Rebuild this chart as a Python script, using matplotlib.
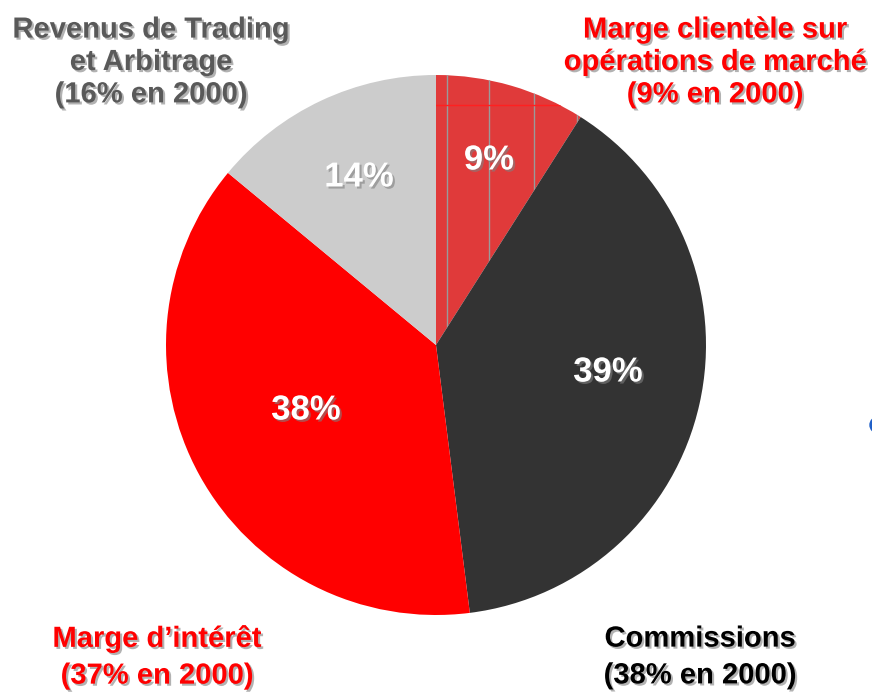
import matplotlib.pyplot as plt
import matplotlib.patheffects as pe
from matplotlib.patches import Circle

# parts of revenue (%), clockwise from the top
labels = ["Marge clientèle sur\nopérations de marché\n(9% en 2000)",
          "Commissions\n(38% en 2000)",
          "Marge d\u2019intérêt\n(37% en 2000)",
          "Revenus de Trading\net Arbitrage\n(16% en 2000)"]
values = [9, 39, 38, 14]
pct_text = ["9%", "39%", "38%", "14%"]
colors = ["#e03a3a", "#333333", "#ff0000", "#cccccc"]
label_colors = ["#ff0000", "#000000", "#ff0000", "#595959"]

plt.rcParams['font.family'] = ['Liberation Sans', 'DejaVu Sans']

fig = plt.figure(figsize=(8.72, 6.93), dpi=100)
ax = fig.add_axes([0, 0, 1, 1])

cx, cy, r = 436, 348, 270
wedges, _ = ax.pie(values, colors=colors, startangle=90, counterclock=False,
                   center=(cx, cy), radius=r, frame=True,
                   wedgeprops=dict(linewidth=0))
ax.set_xlim(0, 872)
ax.set_ylim(0, 693)
ax.set_aspect('equal')
ax.axis('off')

# grid lines visible through the first (patterned) slice
for gx in [447, 489, 534, 577]:
    ln, = ax.plot([gx, gx], [0, 693], color="#9a9a9a", lw=1)
    ln.set_clip_path(wedges[0])
hl, = ax.plot([0, 872], [588, 588], color="#ff2020", lw=1)
hl.set_clip_path(wedges[0])

shadow = [pe.withSimplePatchShadow(offset=(1.5, -1.5), shadow_rgbFace="#808080", alpha=0.6)]

# percentage labels inside the slices
pct_pos = [(489, 693 - 160), (608, 693 - 372), (306, 693 - 410), (359, 693 - 177)]
for (px, py), t in zip(pct_pos, pct_text):
    ax.text(px, py, t, color="white", fontsize=25, fontweight="bold",
            ha="center", va="center", path_effects=shadow)

# outer labels
lab_pos = [(715, 693 - 62), (700, 693 - 657), (157, 693 - 657), (151, 693 - 62)]
spacing = [1.2, 1.4, 1.4, 1.2]
for (lx, ly), t, c, s in zip(lab_pos, labels, label_colors, spacing):
    ax.text(lx, ly, t, color=c, fontsize=21, fontweight="bold",
            ha="center", va="center", linespacing=s, path_effects=shadow)

# small blue dot cut off at the right edge
ax.add_patch(Circle((878, 693 - 425), 8, color="#1f5fc8", clip_on=True))

fig.savefig("out.png", dpi=100)
